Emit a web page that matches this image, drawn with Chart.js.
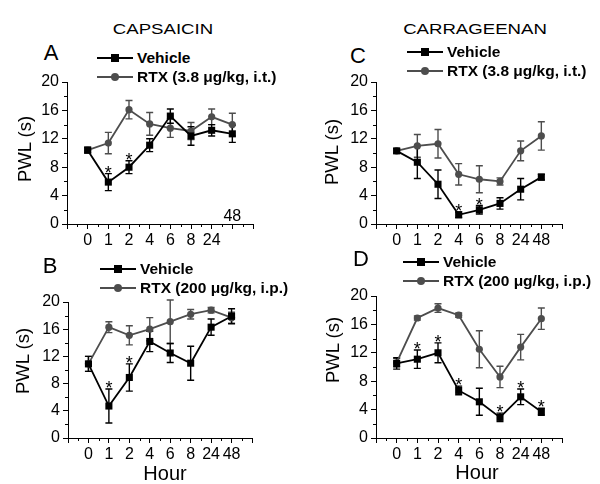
<!DOCTYPE html>
<html>
<head>
<meta charset="utf-8">
<script src="https://cdn.jsdelivr.net/npm/chart.js@4.4.0/dist/chart.umd.min.js"></script>
<style>
  body { margin: 0; background: #fff; }
  #page { position: relative; width: 600px; height: 484px; overflow: hidden; font-family: 'Liberation Sans', Arial, sans-serif; }
  #page canvas { position: absolute; }
  .txt { position: absolute; white-space: nowrap; line-height: 1; color: #000; }
  .lline { position: absolute; height: 2px; }
  .lmark { position: absolute; }
</style>
</head>
<body>
<div id="page"></div>
<script>
// --- data ---
const hours = ['0', '1', '2', '4', '6', '8', '24', '48'];

const vehicleA    = [10.4, 5.9, 8.0, 11.1, 15.2, 12.4, 13.2, 12.7];
const vehicleAErr = [0.4, 1.2, 0.9, 0.9, 1.0, 1.3, 0.8, 1.2];
const rtxA        = [10.4, 11.4, 16.1, 14.1, 13.5, 13.1, 15.1, 14.0];
const rtxAErr     = [0.3, 1.5, 1.3, 1.6, 1.3, 1.2, 1.1, 1.6];

const vehicleB    = [10.9, 4.7, 8.9, 14.2, 12.5, 11.0, 16.3, 17.9];
const vehicleBErr = [1.1, 2.5, 2.0, 1.5, 1.4, 2.5, 1.2, 1.1];
const rtxB        = [10.9, 16.3, 15.1, 16.0, 17.1, 18.2, 18.8, 17.7];
const rtxBErr     = [1.1, 0.8, 1.4, 1.7, 3.2, 0.7, 0.4, 0.8];

const vehicleC    = [10.3, 8.7, 5.6, 1.3, 2.0, 2.9, 4.9, 6.6];
const vehicleCErr = [0.3, 2.3, 2.0, 0.4, 0.6, 0.8, 1.5, 0.4];
const rtxC        = [10.3, 11.0, 11.3, 7.0, 6.3, 6.0, 10.3, 12.4];
const rtxCErr     = [0.3, 1.6, 2.0, 1.5, 1.9, 0.5, 1.4, 2.0];

const vehicleD    = [10.5, 11.1, 12.0, 6.7, 5.1, 2.9, 5.8, 3.7];
const vehicleDErr = [0.8, 1.3, 1.4, 0.6, 1.9, 0.6, 1.1, 0.5];
const rtxD        = [10.6, 16.9, 18.3, 17.3, 12.5, 8.6, 12.8, 16.8];
const rtxDErr     = [0.6, 0.3, 0.6, 0.3, 2.6, 1.5, 1.8, 1.5];

// indices (into hours) marked with an asterisk
const starsA = [1, 2];
const starsB = [1, 2];
const starsC = [3, 4];
const starsD = [1, 2, 3, 5, 6, 7];

const yTicks = [0, 4, 8, 12, 16, 20];
const legendIt = ['Vehicle', 'RTX (3.8 \u03bcg/kg, i.t.)'];
const legendIp = ['Vehicle', 'RTX (200 \u03bcg/kg, i.p.)'];

const FONT = "'Liberation Sans', Arial, sans-serif";
const VEH_COLOR = '#000000';
const RTX_COLOR = '#4d4d4d';

const page = document.getElementById('page');

function addText(text, x, y, size, opts = {}) {
    const d = document.createElement('div');
    d.className = 'txt';
    d.textContent = text;
    d.style.left = x + 'px';
    d.style.top = y + 'px';
    d.style.fontSize = size + 'px';
    if (opts.bold) d.style.fontWeight = 'bold';
    d.style.transform = opts.transform || 'translate(-50%, -50%)';
    page.appendChild(d);
}

function addLegend(x, y1, y2, labels) {
    [[y1, VEH_COLOR, 'square'], [y2, RTX_COLOR, 'circle']].forEach(([y, color, shape], i) => {
        const ln = document.createElement('div');
        ln.className = 'lline';
        ln.style.left = x + 'px';
        ln.style.top = (y - 1) + 'px';
        ln.style.width = '36px';
        ln.style.background = color;
        page.appendChild(ln);
        const mk = document.createElement('div');
        mk.className = 'lmark';
        mk.style.left = (x + 14) + 'px';
        mk.style.top = (y - 4) + 'px';
        mk.style.width = '8px';
        mk.style.height = '8px';
        mk.style.background = color;
        if (shape === 'circle') mk.style.borderRadius = '50%';
        page.appendChild(mk);
        addText(labels[i], x + 40, y, 15.5, { bold: true, transform: 'translate(0, -50%)' });
    });
}

// error bars, minor ticks, asterisks
const extrasPlugin = {
    id: 'extras',
    beforeDatasetsDraw(chart) {
        const { ctx } = chart;
        const xs = chart.scales.x, ys = chart.scales.y;
        const errs = chart.options.plugins.extras.errors;
        for (let di = chart.data.datasets.length - 1; di >= 0; di--) {
            const ds = chart.data.datasets[di];
            ctx.save();
            ctx.strokeStyle = ds.borderColor;
            ctx.lineWidth = 1.4;
            ds.data.forEach((p, i) => {
                const e = errs[di][i];
                const px = xs.getPixelForValue(p.x);
                const top = ys.getPixelForValue(p.y + e);
                const bot = ys.getPixelForValue(p.y - e);
                ctx.beginPath();
                ctx.moveTo(px, top); ctx.lineTo(px, bot);
                ctx.moveTo(px - 3.5, top); ctx.lineTo(px + 3.5, top);
                ctx.moveTo(px - 3.5, bot); ctx.lineTo(px + 3.5, bot);
                ctx.stroke();
            });
            ctx.restore();
        }
    },
    afterDraw(chart) {
        const { ctx, chartArea } = chart;
        const xs = chart.scales.x, ys = chart.scales.y;
        const cfg = chart.options.plugins.extras;
        ctx.save();
        ctx.strokeStyle = '#000';
        ctx.lineWidth = 1;
        ctx.beginPath();
        for (let v = xs.min + 0.5; v < xs.max; v += 1) {
            const px = Math.round(xs.getPixelForValue(v)) + 0.5;
            ctx.moveTo(px, chartArea.bottom); ctx.lineTo(px, chartArea.bottom + 3);
        }
        for (let v = 2; v < ys.max; v += 4) {
            const py = Math.round(ys.getPixelForValue(v)) + 0.5;
            ctx.moveTo(chartArea.left, py); ctx.lineTo(chartArea.left - 3, py);
        }
        ctx.stroke();

        // asterisks above the vehicle error bars
        ctx.fillStyle = '#000';
        ctx.font = '18px ' + FONT;
        ctx.textAlign = 'center';
        ctx.textBaseline = 'alphabetic';
        const veh = chart.data.datasets[0].data;
        cfg.stars.forEach(i => {
            const px = xs.getPixelForValue(veh[i].x);
            const top = ys.getPixelForValue(veh[i].y + cfg.errors[0][i]);
            ctx.fillText('*', px, top + 5);
        });

        // panel A prints its last hour label inside the plot
        if (cfg.innerLast) {
            ctx.font = '16px ' + FONT;
            ctx.textBaseline = 'middle';
            ctx.fillText(hours[hours.length - 1], xs.getPixelForValue(hours.length - 1), chartArea.bottom - 7);
        }
        ctx.restore();
    }
};

function makePanel(p) {
    const padL = 67, padT = 14, padR = 8, axisH = 30;
    const cv = document.createElement('canvas');
    const w = p.area.right - p.area.left + padL + padR;
    const h = p.area.bottom - p.area.top + padT + axisH;
    cv.width = w; cv.height = h;
    cv.style.width = w + 'px'; cv.style.height = h + 'px';
    cv.style.left = (p.area.left - padL) + 'px';
    cv.style.top = (p.area.top - padT) + 'px';
    page.appendChild(cv);

    const toPts = arr => arr.map((v, i) => ({ x: i, y: v }));
    const tickFont = { family: FONT, size: 16 };
    new Chart(cv.getContext('2d'), {
        type: 'line',
        data: {
            datasets: [
                {
                    label: 'Vehicle',
                    data: toPts(p.veh),
                    borderColor: VEH_COLOR,
                    backgroundColor: VEH_COLOR,
                    borderWidth: 1.8,
                    pointStyle: 'rect',
                    pointRadius: 5,
                    pointBorderWidth: 0,
                    tension: 0
                },
                {
                    label: 'RTX',
                    data: toPts(p.rtx),
                    borderColor: RTX_COLOR,
                    backgroundColor: RTX_COLOR,
                    borderWidth: 1.8,
                    pointStyle: 'circle',
                    pointRadius: 3.6,
                    pointBorderWidth: 0,
                    tension: 0
                }
            ]
        },
        options: {
            responsive: false,
            animation: false,
            events: [],
            layout: { padding: { top: padT, right: padR, left: 0, bottom: 0 } },
            plugins: {
                legend: { display: false },
                tooltip: { enabled: false },
                extras: { errors: [p.vehErr, p.rtxErr], stars: p.stars, innerLast: p.innerLast }
            },
            scales: {
                x: {
                    type: 'linear',
                    min: -1,
                    max: 8,
                    afterFit: s => { s.height = axisH; },
                    grid: { drawOnChartArea: false, drawTicks: true, tickLength: 5, color: '#000' },
                    border: { display: true, color: '#000', width: 1 },
                    ticks: {
                        stepSize: 1,
                        autoSkip: false,
                        maxRotation: 0,
                        padding: 2,
                        color: '#000',
                        font: tickFont,
                        callback: v => (p.innerLast && v === hours.length - 1) ? '' : (hours[v] ?? '')
                    }
                },
                y: {
                    min: yTicks[0],
                    max: yTicks[yTicks.length - 1],
                    afterFit: s => { s.width = padL; },
                    grid: { drawOnChartArea: false, drawTicks: true, tickLength: 5, color: '#000' },
                    border: { display: true, color: '#000', width: 1 },
                    ticks: { stepSize: 4, padding: 3, color: '#000', font: tickFont }
                }
            }
        },
        plugins: [extrasPlugin]
    });
}

const panels = [
    { area: { left: 67, top: 82, right: 253, bottom: 224 }, veh: vehicleA, vehErr: vehicleAErr, rtx: rtxA, rtxErr: rtxAErr, stars: starsA, innerLast: true },
    { area: { left: 68, top: 302, right: 252, bottom: 438 }, veh: vehicleB, vehErr: vehicleBErr, rtx: rtxB, rtxErr: rtxBErr, stars: starsB },
    { area: { left: 376, top: 82, right: 562, bottom: 224 }, veh: vehicleC, vehErr: vehicleCErr, rtx: rtxC, rtxErr: rtxCErr, stars: starsC },
    { area: { left: 376, top: 296, right: 562, bottom: 438 }, veh: vehicleD, vehErr: vehicleDErr, rtx: rtxD, rtxErr: rtxDErr, stars: starsD }
];
panels.forEach(makePanel);

// titles and panel letters
addText('CAPSAICIN', 163, 28, 15, { transform: 'translate(-50%, -50%) scaleX(1.24)' });
addText('CARRAGEENAN', 475, 28, 15, { transform: 'translate(-50%, -50%) scaleX(1.24)' });
addText('A', 51, 53, 22);
addText('C', 358, 56, 22);
addText('B', 50, 266, 22);
addText('D', 361, 259, 22);

// legends
addLegend(97, 58, 77, legendIt);
addLegend(407, 52, 71, legendIt);
addLegend(100, 269, 288, legendIp);
addLegend(403, 262, 281, legendIp);

// axis titles
const rot = 'translate(-50%, -50%) rotate(-90deg)';
addText('PWL (s)', 25, 149, 18.5, { transform: rot });
addText('PWL (s)', 332, 152, 18.5, { transform: rot });
addText('PWL (s)', 23, 361, 18.5, { transform: rot });
addText('PWL (s)', 333, 350, 18.5, { transform: rot });
addText('Hour', 165, 473, 20);
addText('Hour', 477, 472, 20);
</script>
</body>
</html>
